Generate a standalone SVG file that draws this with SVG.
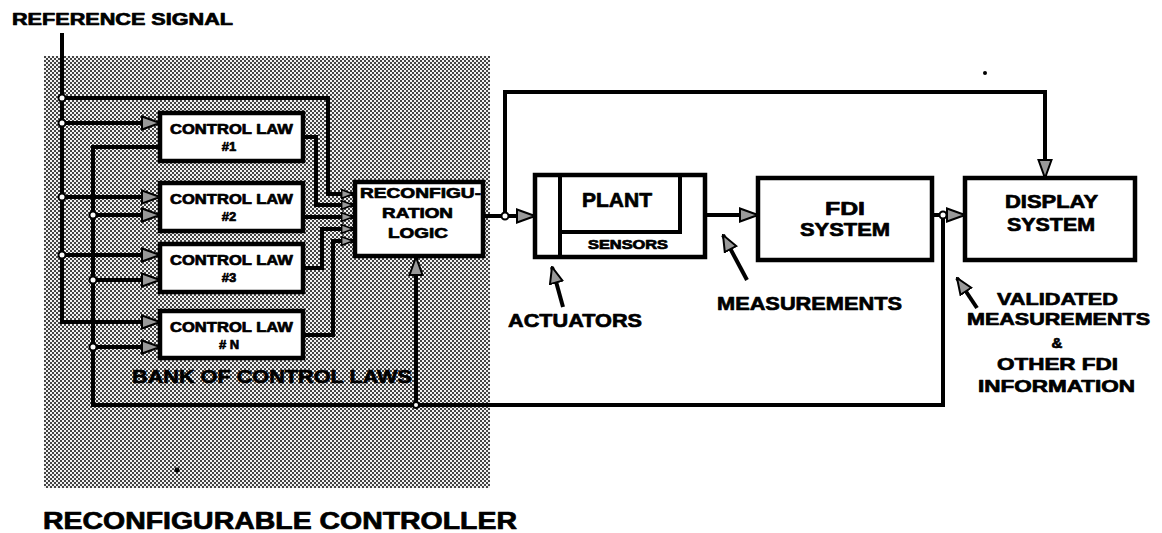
<svg xmlns="http://www.w3.org/2000/svg" width="1162" height="533" viewBox="0 0 1162 533">
<style>
  .t { font-family: "Liberation Sans", Arial, sans-serif; font-weight: bold; fill: #000; stroke: #000; stroke-width: 0.7; stroke-linejoin: round; }
  .box { fill: #fff; stroke: #000; stroke-width: 4.5; }
  .ln { fill: none; stroke: #000; stroke-width: 4; stroke-linejoin: miter; }
  .dot { fill: #fff; stroke: #000; stroke-width: 2; }
</style>
<defs>
  <pattern id="shade" width="4" height="4" patternUnits="userSpaceOnUse">
    <rect width="4" height="4" fill="#f2f2f2"/>
    <rect x="0" y="0" width="2" height="2" fill="#444"/>
    <rect x="2" y="2" width="2" height="2" fill="#444"/>
  </pattern>
  <marker id="arr" viewBox="0 0 20 16" refX="19" refY="8" markerWidth="20" markerHeight="16" markerUnits="userSpaceOnUse" orient="auto">
    <path d="M1,1.5 L19,8 L1,14.5 Z" fill="#999" stroke="#000" stroke-width="2"/>
  </marker>
  <marker id="arrs" viewBox="0 0 12 10" refX="11.5" refY="5" markerWidth="13" markerHeight="11" markerUnits="userSpaceOnUse" orient="auto">
    <path d="M1,1 L11.5,5 L1,9 Z" fill="#999" stroke="#000" stroke-width="1.5"/>
  </marker>
  <marker id="ptr" viewBox="0 0 18 16" refX="17" refY="8" markerWidth="18" markerHeight="16" markerUnits="userSpaceOnUse" orient="auto">
    <path d="M1,1.5 L17,8 L1,14.5 Z" fill="#999" stroke="#000" stroke-width="2"/>
  </marker>
</defs>

<rect id="controller-area" x="44" y="56" width="446" height="432" fill="url(#shade)"/>

<g id="connectors">
  <path class="ln" d="M62,33 V322 H160" marker-end="url(#arr)"/>
  <path class="ln" d="M62,123 H160" marker-end="url(#arr)"/>
  <path class="ln" d="M62,197 H160" marker-end="url(#arr)"/>
  <path class="ln" d="M62,255 H160" marker-end="url(#arr)"/>
  <path class="ln" d="M62,98 H328 V194 H353" marker-end="url(#arrs)"/>
  <path class="ln" d="M160,147 H93 V405 H943 V215"/>
  <path class="ln" d="M93,215 H160" marker-end="url(#arr)"/>
  <path class="ln" d="M93,280 H160" marker-end="url(#arr)"/>
  <path class="ln" d="M93,347 H160" marker-end="url(#arr)"/>
  <path class="ln" d="M303,137 H316 V205 H353" marker-end="url(#arrs)"/>
  <path class="ln" d="M303,217 H353" marker-end="url(#arrs)"/>
  <path class="ln" d="M303,268 H322 V229 H353" marker-end="url(#arrs)"/>
  <path class="ln" d="M303,335 H333 V241 H353" marker-end="url(#arrs)"/>
  <path class="ln" d="M416,405 V257" marker-end="url(#arr)"/>
  <path class="ln" d="M483,216 H535" marker-end="url(#arr)"/>
  <path class="ln" d="M505,216 V92 H1045 V178" marker-end="url(#arr)"/>
  <path class="ln" d="M705,215 H758" marker-end="url(#arr)"/>
  <path class="ln" d="M932,215 H965" marker-end="url(#arr)"/>
  <path class="ln" d="M563,307 L552,267" marker-end="url(#ptr)"/>
  <path class="ln" d="M747,280 L723,235" marker-end="url(#ptr)"/>
  <path class="ln" d="M977,308 L957,278" marker-end="url(#ptr)"/>
  <circle class="dot" cx="62" cy="98" r="3.5"/>
  <circle class="dot" cx="62" cy="123" r="3.5"/>
  <circle class="dot" cx="62" cy="197" r="3.5"/>
  <circle class="dot" cx="62" cy="255" r="3.5"/>
  <circle class="dot" cx="93" cy="215" r="3.5"/>
  <circle class="dot" cx="93" cy="280" r="3.5"/>
  <circle class="dot" cx="93" cy="347" r="3.5"/>
  <circle class="dot" cx="505" cy="216" r="3.5"/>
  <circle class="dot" cx="943" cy="215" r="3.5"/>
  <circle class="dot" cx="416" cy="405" r="3"/>
</g>

<text class="t" x="12" y="25" font-size="16" textLength="221" lengthAdjust="spacingAndGlyphs">REFERENCE SIGNAL</text>

<g id="cl1">
  <rect class="box" x="160" y="113" width="143" height="48"/>
  <text class="t" x="170" y="134" font-size="14" textLength="123" lengthAdjust="spacingAndGlyphs">CONTROL LAW</text>
  <text class="t" x="229" y="151" font-size="13" text-anchor="middle">#1</text>
</g>
<g id="cl2">
  <rect class="box" x="160" y="183" width="143" height="48"/>
  <text class="t" x="170" y="204" font-size="14" textLength="123" lengthAdjust="spacingAndGlyphs">CONTROL LAW</text>
  <text class="t" x="229" y="221" font-size="13" text-anchor="middle">#2</text>
</g>
<g id="cl3">
  <rect class="box" x="160" y="244" width="143" height="48"/>
  <text class="t" x="170" y="265" font-size="14" textLength="123" lengthAdjust="spacingAndGlyphs">CONTROL LAW</text>
  <text class="t" x="229" y="282" font-size="13" text-anchor="middle">#3</text>
</g>
<g id="cln">
  <rect class="box" x="160" y="311" width="143" height="47"/>
  <text class="t" x="170" y="332" font-size="14" textLength="123" lengthAdjust="spacingAndGlyphs">CONTROL LAW</text>
  <text class="t" x="229" y="349" font-size="13" text-anchor="middle"># N</text>
</g>
<text class="t" x="132" y="383" font-size="19" textLength="280" lengthAdjust="spacingAndGlyphs">BANK OF CONTROL LAWS</text>

<g id="reconfig">
  <rect class="box" x="355" y="182" width="128" height="74"/>
  <text class="t" x="360" y="198" font-size="15" textLength="121" lengthAdjust="spacingAndGlyphs">RECONFIGU-</text>
  <text class="t" x="382" y="218" font-size="15" textLength="71" lengthAdjust="spacingAndGlyphs">RATION</text>
  <text class="t" x="388" y="238" font-size="15" textLength="60" lengthAdjust="spacingAndGlyphs">LOGIC</text>
</g>

<g id="plant">
  <rect class="box" x="535" y="175" width="170" height="82"/>
  <path d="M560,175 V257 M560,232 H680 V175" fill="none" stroke="#000" stroke-width="4"/>
  <text class="t" x="582" y="207" font-size="20" textLength="70" lengthAdjust="spacingAndGlyphs">PLANT</text>
  <text class="t" x="588" y="249" font-size="12" textLength="80" lengthAdjust="spacingAndGlyphs">SENSORS</text>
</g>
<text class="t" x="508" y="327" font-size="19" textLength="134" lengthAdjust="spacingAndGlyphs">ACTUATORS</text>

<g id="fdi">
  <rect class="box" x="758" y="178" width="174" height="82"/>
  <text class="t" x="825" y="215" font-size="19" textLength="40" lengthAdjust="spacingAndGlyphs">FDI</text>
  <text class="t" x="800" y="236" font-size="19" textLength="90" lengthAdjust="spacingAndGlyphs">SYSTEM</text>
</g>
<text class="t" x="717" y="310" font-size="19" textLength="185" lengthAdjust="spacingAndGlyphs">MEASUREMENTS</text>

<g id="display">
  <rect class="box" x="965" y="178" width="170" height="82"/>
  <text class="t" x="1005" y="208" font-size="18" textLength="93" lengthAdjust="spacingAndGlyphs">DISPLAY</text>
  <text class="t" x="1007" y="231" font-size="18" textLength="88" lengthAdjust="spacingAndGlyphs">SYSTEM</text>
</g>

<g id="validated-label">
  <text class="t" x="997" y="305" font-size="17" textLength="121" lengthAdjust="spacingAndGlyphs">VALIDATED</text>
  <text class="t" x="967" y="325" font-size="17" textLength="183" lengthAdjust="spacingAndGlyphs">MEASUREMENTS</text>
  <text class="t" x="1057" y="348" font-size="15" text-anchor="middle">&amp;</text>
  <text class="t" x="997" y="370" font-size="17" textLength="121" lengthAdjust="spacingAndGlyphs">OTHER FDI</text>
  <text class="t" x="978" y="392" font-size="17" textLength="157" lengthAdjust="spacingAndGlyphs">INFORMATION</text>
</g>

<text class="t" x="43" y="529" font-size="23" textLength="474" lengthAdjust="spacingAndGlyphs">RECONFIGURABLE CONTROLLER</text>

<circle cx="177" cy="470" r="2.5" fill="#000"/>
<circle cx="985" cy="73" r="2" fill="#000"/>
</svg>
